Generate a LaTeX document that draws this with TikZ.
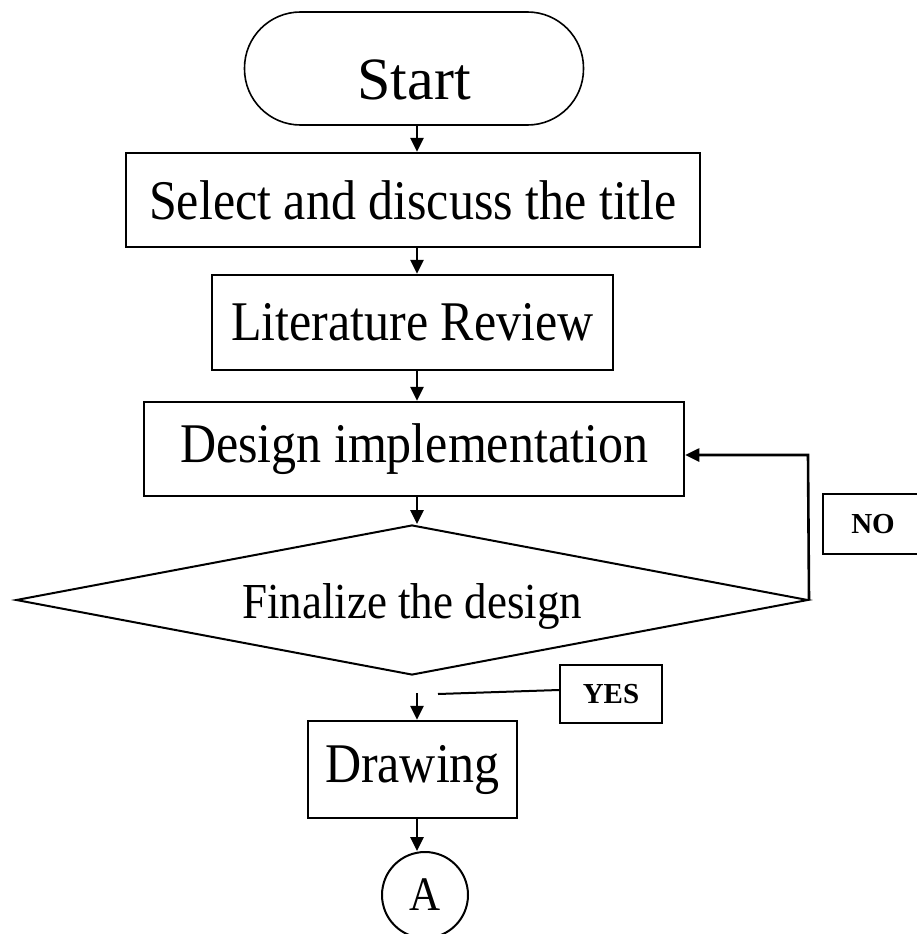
\documentclass[tikz,border=0pt]{standalone}
\usepackage{fontspec}
\setmainfont{Liberation Serif}
\usetikzlibrary{shapes.geometric,arrows.meta}
\newcommand{\vs}[1]{\scalebox{1}[1.12]{#1}}
\begin{document}
\begin{tikzpicture}[x=1pt,y=-1pt,
  box/.style={draw,line width=2.5pt,inner sep=0pt,font=\fontsize{50}{60}\selectfont},
  arr/.style={line width=2.6pt,-{Triangle[length=14pt,width=13pt]}},
  tag/.style={draw,line width=2pt,inner sep=0pt,font=\fontsize{29}{34}\selectfont\bfseries}]
\useasboundingbox (0,0) rectangle (917,934);
\coordinate (ax) at (417,0);
\node[draw,line width=1.6pt,rounded corners=56pt,minimum width=339pt,minimum height=113pt,inner sep=0pt,
  label={[font=\fontsize{60}{70}\selectfont,yshift=-11pt]center:Start}] (start) at (414,68.5) {};
\node[box,minimum width=574pt,minimum height=94pt] (s1) at (413,200) {\vs{Select and discuss the title}};
\node[box,minimum width=401pt,minimum height=95pt] (s2) at (412.5,322.5) {\vs{Literature Review}};
\node[box,minimum width=540pt,minimum height=94pt] (s3) at (414,449) {\vs{Design implementation}};
\node[draw,diamond,line width=2pt,inner sep=0pt,minimum width=792pt,minimum height=150pt,aspect=5.3,
  label={[font=\fontsize{45}{54}\selectfont,yshift=-6pt]center:\vs{Finalize the design}}] (fin) at (412,600) {};
\node[box,minimum width=209pt,minimum height=97pt] (d) at (412.5,769.5) {\vs{Drawing}};
\node[draw,circle,line width=2pt,minimum size=86pt,inner sep=0pt,font=\fontsize{43}{50}\selectfont] (A) at (425,895) {\vs{A}};
\node[tag,minimum width=100pt,minimum height=60pt] (no) at (873,524) {NO};
\node[tag,minimum width=102pt,minimum height=58pt] (yes) at (611,694) {YES};
\draw[arr] (start.south -| ax) -- (s1.north -| ax);
\draw[arr] (s1.south -| ax) -- (s2.north -| ax);
\draw[arr] (s2.south -| ax) -- (s3.north -| ax);
\draw[arr] (s3.south -| ax) -- (fin.north -| ax);
\coordinate (lp) at (808,455);
\draw[arr] (fin.east) -- (lp) -- (s3.east |- lp);
\coordinate (ys) at (417,693);
\draw[arr] (ys) -- (d.north -| ax);
\coordinate (yl) at (438,694);
\draw[line width=2pt] (yl) -- ([yshift=4pt]yes.west);
\draw[arr] (d.south -| ax) -- (A.north -| ax);
\end{tikzpicture}
\end{document}
